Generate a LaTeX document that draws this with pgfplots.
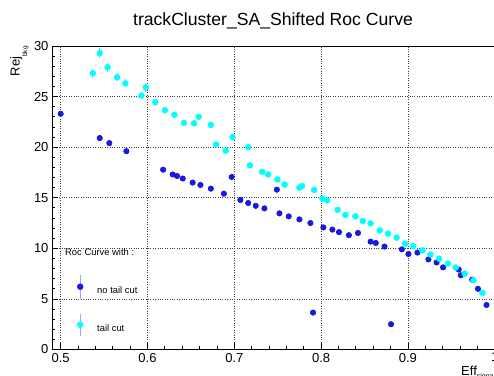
\documentclass[border=0pt]{standalone}
\usepackage{fontspec}
\setmainfont{Liberation Sans}
\usepackage{pgfplots}
\pgfplotsset{compat=1.18}
\usepackage{pgfplotstable}

\definecolor{rblue}{RGB}{25,25,235}
\definecolor{rcyan}{RGB}{0,255,255}
\definecolor{errc}{RGB}{160,165,255}

\pgfdeclarelayer{legendbox}
\pgfplotsset{layers/mylayers/.define layer set={axis background,axis grid,legendbox,axis ticks,axis lines,axis tick labels,pre main,main,axis descriptions,axis foreground}{}}

\pgfplotstableread{
x y e
0.537 27.3 0.45
0.545 29.3 0.5
0.554 27.9 0.45
0.565 26.9 0.4
0.5745 26.3 0.4
0.593 25.1 0.35
0.598 25.9 0.4
0.609 24.45 0.35
0.620 23.65 0.3
0.631 23.2 0.3
0.642 22.4 0.3
0.6536 22.35 0.3
0.659 23.0 0.3
0.673 22.2 0.3
0.679 20.27 0.25
0.690 19.65 0.25
0.698 21.0 0.25
0.716 20.0 0.25
0.718 18.2 0.2
0.732 17.57 0.2
0.739 17.3 0.2
0.7496 16.8 0.2
0.758 16.3 0.2
0.775 16.0 0.2
0.778 16.15 0.2
0.792 15.77 0.2
0.8015 14.9 0.15
0.807 14.74 0.15
0.819 13.8 0.15
0.828 13.3 0.15
0.8395 13.16 0.15
0.848 12.7 0.15
0.857 12.47 0.15
0.8675 11.78 0.12
0.877 11.45 0.12
0.887 11.06 0.12
0.8967 10.46 0.1
0.906 10.2 0.1
0.9167 9.8 0.1
0.926 9.38 0.1
0.936 8.98 0.1
0.946 8.49 0.1
0.955 8.1 0.08
0.9654 7.5 0.08
0.9755 6.84 0.08
0.9858 5.6 0.06
}\tailcut

\pgfplotstableread{
x y e
0.500 23.3 0.3
0.545 20.9 0.25
0.556 20.4 0.25
0.5757 19.6 0.25
0.618 17.77 0.2
0.629 17.3 0.2
0.634 17.15 0.2
0.6406 16.9 0.2
0.652 16.5 0.2
0.661 16.26 0.2
0.673 15.9 0.2
0.688 15.4 0.2
0.697 17.05 0.2
0.707 14.78 0.2
0.716 14.48 0.2
0.7247 14.2 0.2
0.7347 13.95 0.2
0.749 15.8 0.2
0.752 13.46 0.15
0.7627 13.16 0.15
0.775 12.86 0.15
0.7877 12.5 0.15
0.7907 3.65 0.1
0.8026 12.07 0.15
0.813 11.85 0.15
0.8206 11.6 0.15
0.832 11.3 0.15
0.8425 11.52 0.15
0.857 10.66 0.12
0.863 10.53 0.12
0.873 10.17 0.12
0.8805 2.5 0.08
0.893 9.9 0.12
0.9006 9.44 0.12
0.911 9.58 0.12
0.9236 8.9 0.1
0.933 8.6 0.1
0.9405 8.12 0.1
0.9585 7.9 0.1
0.961 7.34 0.1
0.974 6.9 0.1
0.9807 6.0 0.08
0.9905 4.4 0.08
}\notailcut

\begin{document}
\begin{tikzpicture}
\begin{axis}[
  name=ax,
  set layers=mylayers,
  scale only axis,
  width=451.4pt, height=303.5pt,
  xmin=0.49, xmax=1.01,
  ymin=0, ymax=30,
  xtick={0.5,0.6,0.7,0.8,0.9,1.0},
  xticklabels={0.5,0.6,0.7,0.8,0.9,1},
  ytick={0,5,10,15,20,25,30},
  minor x tick num=4,
  minor y tick num=4,
  tick align=inside,
  xtick pos=bottom, ytick pos=left,
  major tick length=6pt,
  minor tick length=3pt,
  every tick/.style={black, line width=0.8pt},
  axis line style={black, line width=0.9pt},
  grid=major,
  major grid style={black!75, dotted, line width=0.6pt},
  /pgf/number format/assume math mode=true,
  ticklabel style={font=\fontsize{13}{15}\selectfont},
  legend style={at={(axis cs:0.49922,11.466)}, anchor=north west, draw=none, fill=none,
    inner sep=0pt, row sep=0pt, column sep=0pt,
    font=\fontsize{9.4}{11}\selectfont,
    nodes={inner sep=2pt}},
  legend cell align=left,
]
\begin{pgfonlayer}{legendbox}
\fill[white] (axis cs:0.5015,0.01) rectangle (axis cs:0.6628,12.1);
\end{pgfonlayer}
\addlegendimage{legend image code/.code={\path[draw=none,fill=none] (-20pt,-19pt) rectangle (15pt,19pt);}}
\addlegendentry{\hspace*{-32pt}Roc Curve with :}
\addplot[only marks, mark=*, mark size=2.7pt, mark options={fill=rblue, draw=rblue!80!black, line width=0.6pt},
  error bars/.cd, y dir=both, y explicit, error mark=none,
  error bar style={errc, line width=1pt},
  /pgfplots/legend image code/.code={\draw[errc,line width=1.3pt] (0pt,-8pt)--(0pt,16pt);
     \fill[rblue] (0pt,4pt) circle (3pt); \path[draw=none,fill=none] (-20pt,-19pt) rectangle (15pt,19pt);}]
  table[x=x, y=y, y error=e] {\notailcut};
\addlegendentry{no tail cut}
\addplot[only marks, mark=*, mark size=3pt, mark options={fill=rcyan, draw=rcyan},
  error bars/.cd, y dir=both, y explicit, error mark=none,
  error bar style={errc, line width=1pt},
  /pgfplots/legend image code/.code={\draw[errc,line width=1.3pt] (0pt,-7pt)--(0pt,15pt);
     \fill[rcyan] (0pt,4pt) circle (3pt); \path[draw=none,fill=none] (-20pt,-19pt) rectangle (15pt,19pt);}]
  table[x=x, y=y, y error=e] {\tailcut};
\addlegendentry{tail cut}
\end{axis}
\node[anchor=base, font=\fontsize{17.6}{20}\selectfont] at ([xshift=221pt,yshift=20pt]ax.north west) {trackCluster\_SA\_Shifted Roc Curve};
\node[rotate=90, anchor=base east, inner sep=0pt, font=\fontsize{13}{15}\selectfont] at ([xshift=-32.5pt]ax.north west) {Rej\raisebox{-7.5pt}{\fontsize{6.5}{7}\selectfont bkg}};
\node[anchor=base west, inner sep=0pt, font=\fontsize{13}{15}\selectfont] at ([xshift=409pt,yshift=-26.5pt]ax.south west) {Eff\raisebox{-2.5pt}{\fontsize{7}{8}\selectfont signal}};
\pgfresetboundingbox
\path[use as bounding box] ([xshift=-52pt,yshift=-26.5pt]ax.south west) rectangle ([xshift=442pt,yshift=46pt]ax.north west);
\end{tikzpicture}
\end{document}
